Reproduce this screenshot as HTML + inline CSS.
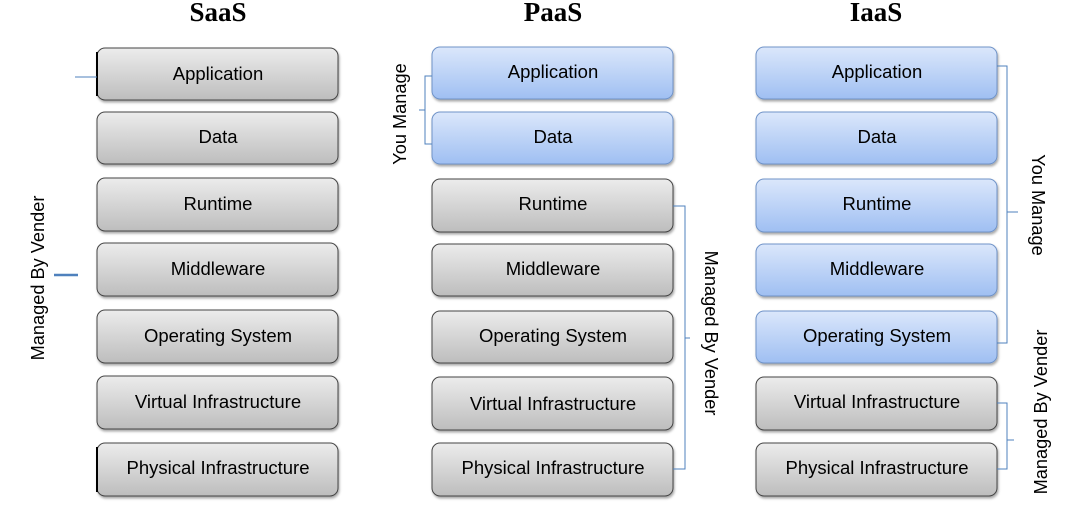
<!DOCTYPE html>
<html><head><meta charset="utf-8"><style>
html,body{margin:0;padding:0;background:#fff;}
svg{display:block;}
.t{font-family:"Liberation Sans",sans-serif;font-size:18.5px;fill:#000;text-anchor:middle;}
.h{font-family:"Liberation Serif",serif;font-weight:bold;font-size:27px;fill:#000;text-anchor:middle;}
.l{font-family:"Liberation Sans",sans-serif;font-size:18.2px;fill:#000;text-anchor:middle;}
.br{fill:none;stroke:#4f81bd;stroke-width:1;}
</style></head><body>
<svg width="1069" height="515" viewBox="0 0 1069 515" xmlns="http://www.w3.org/2000/svg">
<defs>
<linearGradient id="g" x1="0" y1="0" x2="0" y2="1"><stop offset="0" stop-color="#ececec"/><stop offset="1" stop-color="#bdbdbd"/></linearGradient>
<linearGradient id="b" x1="0" y1="0" x2="0" y2="1"><stop offset="0" stop-color="#dbe7fb"/><stop offset="1" stop-color="#9fbff2"/></linearGradient>
<filter id="s" x="-5%" y="-10%" width="110%" height="130%"><feDropShadow dx="1" dy="2" stdDeviation="1.2" flood-opacity="0.35"/></filter>
</defs>
<text class="h" x="218" y="21">SaaS</text>
<text class="h" x="553" y="21">PaaS</text>
<text class="h" x="876" y="21">IaaS</text>
<g filter="url(#s)">
<rect x="97" y="48" width="241" height="52" rx="8" fill="url(#g)" stroke="#444"/>
<rect x="97" y="112" width="241" height="52" rx="8" fill="url(#g)" stroke="#444"/>
<rect x="97" y="178" width="241" height="53" rx="8" fill="url(#g)" stroke="#444"/>
<rect x="97" y="243" width="241" height="53" rx="8" fill="url(#g)" stroke="#444"/>
<rect x="97" y="310" width="241" height="53" rx="8" fill="url(#g)" stroke="#444"/>
<rect x="97" y="376" width="241" height="53" rx="8" fill="url(#g)" stroke="#444"/>
<rect x="97" y="443" width="241" height="53" rx="8" fill="url(#g)" stroke="#444"/>
<rect x="432" y="47" width="241" height="52" rx="8" fill="url(#b)" stroke="#6f93c8"/>
<rect x="432" y="112" width="241" height="52" rx="8" fill="url(#b)" stroke="#6f93c8"/>
<rect x="432" y="179" width="241" height="53" rx="8" fill="url(#g)" stroke="#444"/>
<rect x="432" y="244" width="241" height="52" rx="8" fill="url(#g)" stroke="#444"/>
<rect x="432" y="311" width="241" height="52" rx="8" fill="url(#g)" stroke="#444"/>
<rect x="432" y="377" width="241" height="53" rx="8" fill="url(#g)" stroke="#444"/>
<rect x="432" y="443" width="241" height="53" rx="8" fill="url(#g)" stroke="#444"/>
<rect x="756" y="47" width="241" height="52" rx="8" fill="url(#b)" stroke="#6f93c8"/>
<rect x="756" y="112" width="241" height="52" rx="8" fill="url(#b)" stroke="#6f93c8"/>
<rect x="756" y="179" width="241" height="53" rx="8" fill="url(#b)" stroke="#6f93c8"/>
<rect x="756" y="244" width="241" height="52" rx="8" fill="url(#b)" stroke="#6f93c8"/>
<rect x="756" y="311" width="241" height="52" rx="8" fill="url(#b)" stroke="#6f93c8"/>
<rect x="756" y="377" width="241" height="53" rx="8" fill="url(#g)" stroke="#444"/>
<rect x="756" y="443" width="241" height="53" rx="8" fill="url(#g)" stroke="#444"/>
</g>
<line x1="97" y1="52" x2="97" y2="96" stroke="#000" stroke-width="2"/>
<line x1="97" y1="447" x2="97" y2="492" stroke="#000" stroke-width="2"/>
<g class="t">
<text x="218" y="80">Application</text><text x="218" y="143">Data</text>
<text x="218" y="210">Runtime</text><text x="218" y="275">Middleware</text>
<text x="218" y="342">Operating System</text><text x="218" y="408">Virtual Infrastructure</text>
<text x="218" y="474">Physical Infrastructure</text>
<text x="553" y="78">Application</text><text x="553" y="143">Data</text>
<text x="553" y="210">Runtime</text><text x="553" y="275">Middleware</text>
<text x="553" y="342">Operating System</text><text x="553" y="410">Virtual Infrastructure</text>
<text x="553" y="474">Physical Infrastructure</text>
<text x="877" y="78">Application</text><text x="877" y="143">Data</text>
<text x="877" y="210">Runtime</text><text x="877" y="275">Middleware</text>
<text x="877" y="342">Operating System</text><text x="877" y="408">Virtual Infrastructure</text>
<text x="877" y="474">Physical Infrastructure</text>
</g>
<line x1="75" y1="77" x2="97" y2="77" stroke="#4f81bd"/>
<line x1="54" y1="275" x2="78" y2="275" stroke="#4f81bd" stroke-width="2.5"/>
<path class="br" d="M432,76 H425 V144 H432 M425,110 H419"/>
<path class="br" d="M673,206 H685 V469 H673 M685,338 H690"/>
<path class="br" d="M997,66 H1007 V343 H997 M1007,212 H1018"/>
<path class="br" d="M997,403 H1007 V469 H997 M1007,440 H1014"/>
<text class="l" transform="translate(44,278) rotate(-90)">Managed By Vender</text>
<text class="l" transform="translate(406,114) rotate(-90)">You Manage</text>
<text class="l" transform="translate(705,333) rotate(90)">Managed By Vender</text>
<text class="l" transform="translate(1032,205) rotate(90)">You Manage</text>
<text class="l" transform="translate(1047,412) rotate(-90)">Managed By Vender</text>
</svg>
</body></html>
